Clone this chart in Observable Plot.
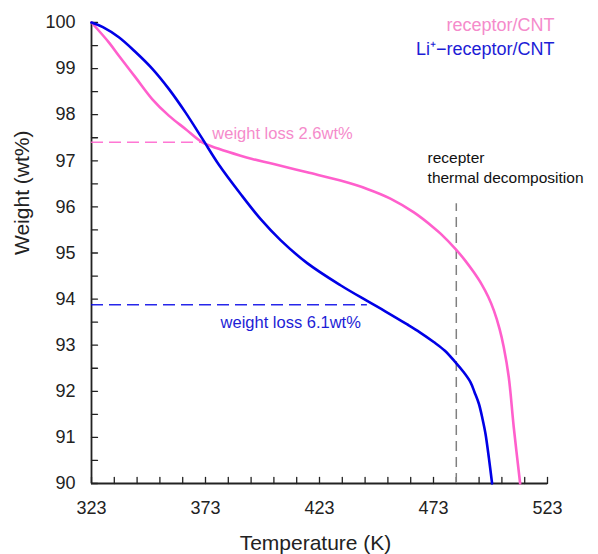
<!DOCTYPE html>
<html><head><meta charset="utf-8">
<script src="https://cdn.jsdelivr.net/npm/d3@7"></script>
<script src="https://cdn.jsdelivr.net/npm/@observablehq/plot@0.6"></script>
<style>body{margin:0;background:#fff}</style>
</head><body><div id="chart"></div>
<script>
// receptor/CNT
const pinkTemp   = [323,330.6,335,342.3,349.6,356.9,364.2,371.6,378.8,388.4,393.5,402.9,417.6,432.2,443.9,454.1,464.4,473.1,476.1,482.6,487,490.7,494,497,499.5,502,503.8,506,508.2,511];
const pinkWeight = [100,99.57,99.28,98.81,98.34,97.98,97.69,97.40,97.26,97.11,97.04,96.93,96.75,96.57,96.39,96.18,95.88,95.55,95.42,95.09,94.83,94.58,94.33,94.05,93.75,93.35,92.96,92.31,91.22,90.0];
// Li+-receptor/CNT
const blueTemp   = [323,328,335,342.3,349.6,356.9,364.2,371.6,378.8,388.4,397.1,405.9,417.6,432.2,443.9,452,461.5,467,473.1,478,482.6,486,489.2,491,492.9,494.5,495.8,497.3,498.7];
const blueWeight = [100,99.9,99.68,99.36,99.0,98.56,98.05,97.48,96.92,96.28,95.74,95.28,94.78,94.30,93.96,93.73,93.45,93.28,93.07,92.88,92.63,92.43,92.2,91.98,91.73,91.4,91.08,90.55,90.0];

const seriesNames  = ["receptor/CNT", "Li\u207A\u2212receptor/CNT"];
const lineColors   = ["#ff5fcc", "#0000e6"];
const textColors   = ["#f58bcb", "#1d1dd6"];

// weight-loss markers
const lossLevel = [97.4, 93.88];
const lossEndT  = [373, 444];
const lossLabels = ["weight loss 2.6wt%", "weight loss 6.1wt%"];
const lossLabelT = [376, 379.6];
const lossLabelW = [97.59, 93.49];

// decomposition marker
const decompT = 483;
const decompTopW = 96.07;
const decompLabels = ["recepter", "thermal decomposition"];
const decompLabelT = [470.4, 470.4];
const decompLabelW = [97.05, 96.62];

// legend placement (data coords)
const legendT = [526.1, 526.1];
const legendW = [99.93, 99.41];

const xMinorTicks = d3.range(323, 524, 10);
const xMajorTicks = [323, 373, 423, 473, 523];
const yMinorTicks = d3.range(90, 100.001, 0.5);
const yMajorTicks = d3.range(90, 101, 1);

const pink = pinkTemp.map((t, i) => ({T: t, W: pinkWeight[i]}));
const blue = blueTemp.map((t, i) => ({T: t, W: blueWeight[i]}));
const losses = lossLevel.map((w, i) => ({w, t2: lossEndT[i], label: lossLabels[i], lt: lossLabelT[i], lw: lossLabelW[i], c: lineColors[i], tc: textColors[i]}));
const decomp = decompLabels.map((s, i) => ({s, t: decompLabelT[i], w: decompLabelW[i]}));
const legend = seriesNames.map((s, i) => ({s, t: legendT[i], w: legendW[i], c: textColors[i]}));

const font = "'Liberation Sans', Arial, Helvetica, sans-serif";
const tickShape = {draw(context, l) { context.moveTo(0, 0); context.lineTo(0, -l); }};

const chart = Plot.plot({
  width: 598, height: 554,
  marginLeft: 91, marginRight: 51, marginTop: 22, marginBottom: 71,
  style: {fontFamily: font, background: "white", color: "black"},
  x: {domain: [323, 523]},
  y: {domain: [90, 100]},
  marks: [
    // inward tick marks
    Plot.vector(xMinorTicks, {x: d => d, y: () => 90, length: 6, rotate: 0, anchor: "start", shape: tickShape, stroke: "#222", strokeWidth: 1.3}),
    Plot.vector(yMinorTicks, {x: () => 323, y: d => d, length: 6, rotate: 90, anchor: "start", shape: tickShape, stroke: "#222", strokeWidth: 1.3}),
    Plot.axisX({ticks: xMajorTicks, tickSize: 0, tickPadding: 18, fontSize: 18, label: null, tickFormat: d => String(d), fill: "#222"}),
    Plot.axisY({ticks: yMajorTicks, tickSize: 0, tickPadding: 16, fontSize: 18, label: null, tickFormat: d => String(d), fill: "#222"}),
    Plot.ruleX([323], {stroke: "#222", strokeWidth: 1.8}),
    Plot.ruleY([90], {stroke: "#222", strokeWidth: 1.8}),
    Plot.text(["Temperature (K)"], {frameAnchor: "bottom", dy: 60, dx: -4, lineAnchor: "middle", fontSize: 21, fill: "#222"}),
    Plot.text(["Weight (wt%)"], {frameAnchor: "left", dx: -69, dy: 2, rotate: -90, lineAnchor: "middle", fontSize: 21, fill: "#222"}),
    Plot.ruleY(losses, {y: "w", x1: () => 323, x2: "t2", stroke: "c", strokeWidth: 1.5, strokeDasharray: "12,6", strokeOpacity: 0.85}),
    Plot.ruleX([decompT], {y1: 90, y2: decompTopW, stroke: "#808080", strokeWidth: 1.5, strokeDasharray: "10,6"}),
    Plot.line(pink, {x: "T", y: "W", stroke: lineColors[0], strokeWidth: 2.6, curve: "catmull-rom"}),
    Plot.line(blue, {x: "T", y: "W", stroke: lineColors[1], strokeWidth: 2.6, curve: "catmull-rom"}),
    Plot.text(losses, {x: "lt", y: "lw", text: "label", fill: "tc", textAnchor: "start", lineAnchor: "middle", fontSize: 16.5}),
    Plot.text(decomp, {x: "t", y: "w", text: "s", fill: "#111", textAnchor: "start", lineAnchor: "middle", fontSize: 15.5}),
    Plot.text(legend, {x: "t", y: "w", text: "s", fill: "c", textAnchor: "end", lineAnchor: "middle", fontSize: 18})
  ]
});
document.getElementById("chart").appendChild(chart);
</script>
</body></html>
